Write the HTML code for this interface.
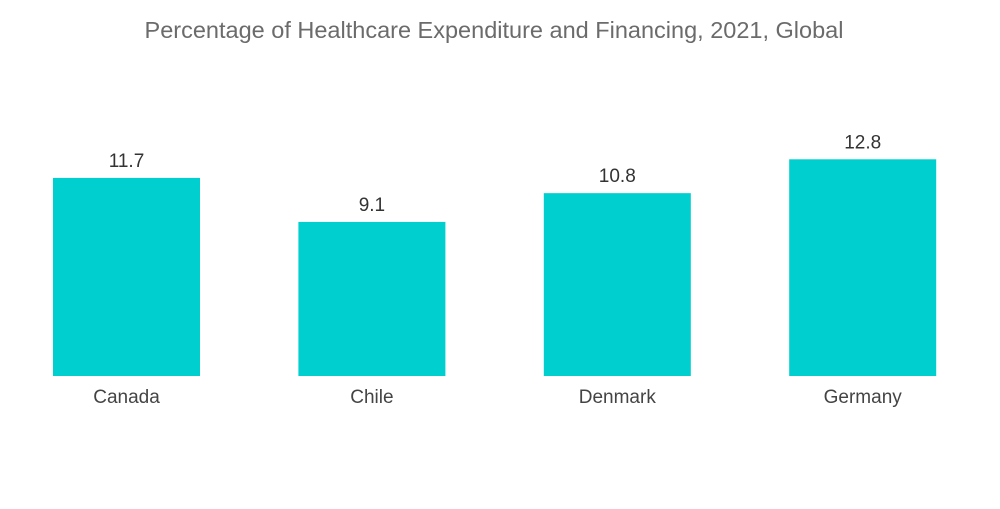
<!DOCTYPE html>
<html><head><meta charset="utf-8"><style>
body{margin:0;background:#fff;width:1000px;height:504px;overflow:hidden;font-family:"Liberation Sans",sans-serif}
</style></head><body>
<svg width="1000" height="504">
<text x="494" y="38" text-anchor="middle" font-size="23.5" fill="#6b6b6b">Percentage of Healthcare Expenditure and Financing, 2021, Global</text>
<g id="bars"></g>
</svg>
<script>
const categories=["Canada","Chile","Denmark","Germany"];
const values=[11.7,9.1,10.8,12.8];
const labels=["11.7","9.1","10.8","12.8"];
const base=376, scale=16.93, x0=53, step=245.4, bw=147;
const y=v=>base-v*scale;
const g=document.getElementById('bars');
const ns="http://www.w3.org/2000/svg";
categories.forEach((c,i)=>{
  const x=x0+i*step;
  const r=document.createElementNS(ns,'rect');
  r.setAttribute('x',x);r.setAttribute('y',y(values[i]));r.setAttribute('width',bw);r.setAttribute('height',base-y(values[i]));r.setAttribute('fill','#00cfd0');
  
  
  g.appendChild(r);
  const t=document.createElementNS(ns,'text');
  t.setAttribute('x',x+bw/2);t.setAttribute('y',y(values[i])-11);t.setAttribute('text-anchor','middle');t.setAttribute('font-size','19');t.setAttribute('fill','#333');
  t.textContent=labels[i];
  
  
  g.appendChild(t);
  const l=document.createElementNS(ns,'text');
  l.setAttribute('x',x+bw/2);l.setAttribute('y',403);l.setAttribute('text-anchor','middle');l.setAttribute('font-size','19');l.setAttribute('fill','#444');
  l.textContent=c;
  
  
  g.appendChild(l);
});
</script>
</body></html>
